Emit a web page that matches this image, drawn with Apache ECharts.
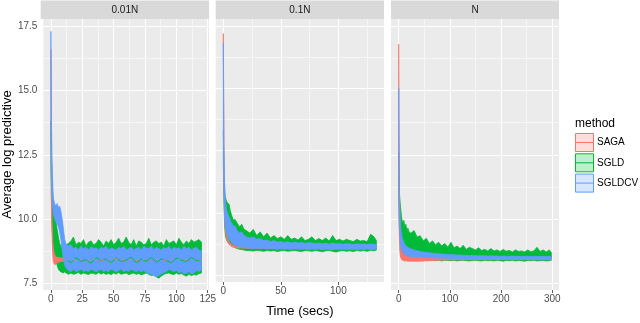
<!DOCTYPE html>
<html>
<head>
<meta charset="utf-8">
<script src="https://cdn.jsdelivr.net/npm/echarts@6/dist/echarts.min.js"></script>
<style>
  html, body { margin: 0; padding: 0; background: #fff; }
  #chart { width: 640px; height: 323px; }
</style>
</head>
<body>
<div id="chart"></div>
<script>
// 面板与方法
const panels = ['0.01N', '0.1N', 'N']
const methods = ['SAGA', 'SGLD', 'SGLDCV']

// 刻度
const yTicks = [7.5, 10, 12.5, 15, 17.5]
const yMinor = [8.75, 11.25, 13.75, 16.25]
const xTicks = [[0, 25, 50, 75, 100, 125], [0, 50, 100], [0, 100, 200, 300]]
const xMinor = [[12.5, 37.5, 62.5, 87.5, 112.5], [25, 75, 125], [50, 150, 250]]

// 0.01N
const p1X = [0, 0.5, 1, 1.5, 2, 3, 4, 5, 6, 7, 8, 9, 10, 11, 12,
  14, 16, 18, 20, 22, 24, 26, 28, 30, 32, 34, 36, 38, 40, 42, 44, 46, 48, 50, 52, 54, 56, 58, 60,
  62, 64, 66, 68, 70, 72, 74, 76, 78, 80, 82, 84, 86, 88, 90, 92, 94, 96, 98, 100, 102, 104, 106,
  108, 110, 112, 114, 116, 118, 120]
const p1SgldHi = [13.8, 12.4, 11.4, 10.8, 10.5, 10.2, 9.9, 9.6, 9.3, 9.05, 8.95, 8.85, 8.9, 8.95, 9.0,
  9.05, 9.15, 9.3, 9.0, 9.1, 9.05, 9.2, 8.95, 9.1, 9.15, 9.0, 9.05, 9.2, 9.1, 8.95, 9.15, 9.05, 9.2,
  9.0, 9.1, 9.25, 9.05, 9.1, 9.3, 9.1, 9.0, 9.2, 8.95, 9.15, 9.1, 9.0, 9.05, 9.25, 9.0, 9.1, 9.15,
  9.05, 9.1, 8.95, 9.2, 9.05, 9.1, 9.15, 9.0, 9.25, 9.1, 9.0, 9.15, 9.05, 9.2, 9.1, 9.15, 9.2, 9.1]
const p1SgldLo = [12.0, 10.4, 9.7, 9.2, 8.9, 8.6, 8.4, 8.2, 8.05, 7.98, 7.95, 7.92, 7.9, 7.95, 7.9,
  7.85, 7.9, 7.85, 7.88, 7.92, 7.85, 7.9, 7.87, 7.84, 7.9, 7.88, 7.85, 7.92, 7.86, 7.9,
  7.85, 7.88, 7.84, 7.9, 7.86, 7.92, 7.85, 7.88, 7.9, 7.84, 7.87, 7.9, 7.85, 7.88, 7.83,
  7.86, 7.9, 7.85, 7.8, 7.82, 7.75, 7.7, 7.78, 7.85, 7.88, 7.9, 7.86, 7.84, 7.9, 7.85,
  7.88, 7.82, 7.78, 7.85, 7.8, 7.84, 7.82, 7.88, 7.9]
const p1CvHi = [17.3, 13.6, 12.1, 11.3, 10.8, 10.6, 10.5, 10.6, 10.45, 10.5, 10.3, 10.0, 9.6, 9.2, 9.05,
  8.95, 9.0, 8.85, 8.9, 8.8, 8.95, 8.85, 8.9, 8.8, 8.92, 8.85, 8.88, 8.8, 8.9, 8.86,
  8.94, 8.8, 8.88, 8.84, 8.8, 8.9, 8.85, 8.94, 8.8, 8.85, 8.9, 8.8, 8.86, 8.9, 8.8,
  8.94, 8.88, 8.84, 8.95, 8.8, 8.9, 8.85, 8.8, 8.9, 8.84, 8.94, 8.8, 8.9, 8.85, 8.88,
  8.8, 8.94, 8.85, 8.9, 8.8, 8.86, 8.9, 8.8, 8.75]
const p1CvLo = [13.0, 11.5, 10.8, 10.4, 10.2, 10.0, 9.9, 9.8, 9.7, 9.5, 9.2, 8.8, 8.45, 8.2, 8.1,
  8.0, 7.95, 8.05, 7.96, 8.0, 8.04, 7.95, 8.0, 7.96, 8.05, 8.0, 7.95, 8.0, 8.04, 7.96,
  8.0, 7.95, 8.05, 8.0, 7.95, 8.0, 8.05, 7.95, 8.0, 7.96, 8.04, 8.0, 7.95, 8.0, 7.94,
  8.0, 7.92, 7.88, 7.84, 7.8, 7.76, 7.8, 7.86, 7.92, 7.95, 8.04, 8.0, 7.95, 8.0, 7.9,
  7.95, 7.86, 7.9, 7.95, 7.86, 7.9, 8.0, 7.96, 8.02]
const p1SagaX = [0, 0.5, 1, 1.5, 2, 3, 4, 5, 6, 8, 10, 15, 20, 30, 40, 50, 60, 70, 80, 90, 100, 110, 120]
const p1SagaHi = [16.6, 11.0, 9.7, 9.1, 8.8, 8.6, 8.55, 8.5, 8.5, 8.48, 8.5, 8.47, 8.5, 8.49, 8.46, 8.5,
  8.48, 8.5, 8.47, 8.5, 8.48, 8.5, 8.49]
const p1SagaLo = [16.0, 10.2, 9.1, 8.6, 8.35, 8.22, 8.25, 8.3, 8.32, 8.35, 8.36, 8.35, 8.37, 8.35, 8.36,
  8.34, 8.36, 8.35, 8.37, 8.35, 8.36, 8.35, 8.36]
// 0.01N 中线 (蓝带内可见的绿/红线)
const p1MidX = [12, 16, 20, 24, 28, 32, 36, 40, 44, 48, 52, 56, 60, 64, 68, 72, 76, 80, 84, 88, 92, 96,
  100, 104, 108, 112, 116, 120]
const p1SgldMid = [8.45, 8.3, 8.5, 8.35, 8.42, 8.28, 8.5, 8.38, 8.45, 8.3, 8.48, 8.35, 8.4, 8.52, 8.3,
  8.44, 8.36, 8.5, 8.32, 8.45, 8.38, 8.3, 8.48, 8.4, 8.35, 8.5, 8.38, 8.42]
const p1SagaMid = [8.42, 8.44, 8.4, 8.43, 8.41, 8.44, 8.42, 8.4, 8.43, 8.42, 8.44, 8.41, 8.42, 8.43, 8.4,
  8.42, 8.44, 8.41, 8.43, 8.42, 8.4, 8.43, 8.42, 8.44, 8.41, 8.42, 8.43, 8.42]

// 0.1N
const p2X = [0, 0.5, 1, 1.5, 2, 3, 4, 5, 6, 7, 8, 9, 10, 12, 14, 16, 18, 20,
  23, 26, 29, 32, 35, 38, 41, 44, 47, 50, 53, 56, 59, 62, 65, 68, 71, 74, 77, 80, 83, 86, 89, 92,
  95, 98, 101, 104, 107, 110, 113, 116, 119, 122, 125, 128, 131, 133]
const p2SgldHi = [13.3, 11.8, 11.0, 10.7, 10.6, 10.45, 10.4, 10.35, 10.1, 9.95, 9.8, 9.7, 9.75, 9.6, 9.45,
  9.55, 9.35, 9.3,
  9.2, 9.35, 9.1, 9.25, 9.05, 9.2, 9.0, 9.1, 8.98, 9.05, 8.95, 9.1, 8.95, 9.0, 8.92, 9.05, 8.9, 8.95,
  9.05, 8.9, 8.98, 8.9, 9.0, 8.88, 9.1, 8.9, 8.95, 8.88, 8.95, 8.9, 8.86, 8.95, 8.88, 8.9, 8.86,
  9.15, 9.05, 8.9]
const p2SgldLo = [12.0, 10.4, 9.6, 9.25, 9.05, 8.9, 8.82, 8.78, 8.75, 8.72, 8.7, 8.66, 8.62, 8.58, 8.55,
  8.54, 8.52, 8.5,
  8.5, 8.48, 8.51, 8.49, 8.47, 8.5, 8.48, 8.5, 8.46, 8.49, 8.5, 8.47, 8.49, 8.5, 8.48, 8.46, 8.5,
  8.49, 8.47, 8.5, 8.48, 8.45, 8.49, 8.5, 8.47, 8.44, 8.48, 8.5, 8.47, 8.49, 8.46, 8.5, 8.48, 8.5,
  8.47, 8.51, 8.49, 8.52]
const p2CvHi = [16.8, 12.6, 11.3, 10.8, 10.4, 10.1, 9.95, 9.85, 9.7, 9.6, 9.55, 9.45, 9.5, 9.3, 9.2,
  9.25, 9.1, 9.05,
  9.0, 9.05, 8.95, 8.98, 8.9, 8.92, 8.86, 8.9, 8.84, 8.86, 8.82, 8.85, 8.8, 8.84, 8.8, 8.82, 8.78,
  8.82, 8.8, 8.78, 8.8, 8.77, 8.8, 8.76, 8.8, 8.77, 8.78, 8.75, 8.78, 8.76, 8.74, 8.77, 8.75, 8.76,
  8.74, 8.77, 8.75, 8.74]
const p2CvLo = [13.5, 11.0, 10.0, 9.6, 9.4, 9.2, 9.05, 8.95, 8.88, 8.82, 8.78, 8.74, 8.72, 8.68, 8.65,
  8.63, 8.62, 8.6,
  8.6, 8.58, 8.6, 8.57, 8.59, 8.56, 8.58, 8.57, 8.55, 8.58, 8.56, 8.57, 8.55, 8.58, 8.56, 8.55, 8.57,
  8.54, 8.56, 8.55, 8.57, 8.54, 8.56, 8.55, 8.53, 8.56, 8.55, 8.57, 8.54, 8.56, 8.55, 8.53, 8.56,
  8.55, 8.57, 8.54, 8.56, 8.55]
const p2SagaX = [0, 0.5, 1, 1.5, 2, 3, 4, 5, 6, 8, 10, 12, 15, 20, 30, 40, 60, 80, 100, 120, 133]
const p2SagaHi = [17.2, 12.0, 10.3, 9.8, 9.5, 9.15, 8.95, 8.85, 8.8, 8.72, 8.69, 8.67, 8.66, 8.65, 8.64,
  8.63, 8.63, 8.62, 8.62, 8.62, 8.62]
const p2SagaLo = [16.5, 11.0, 9.9, 9.45, 9.2, 8.95, 8.82, 8.75, 8.7, 8.64, 8.62, 8.6, 8.6, 8.59, 8.58,
  8.58, 8.57, 8.57, 8.57, 8.57, 8.57]

// N
const p3X = [0, 1, 2, 3, 4, 5, 6, 8, 10, 12, 14, 16, 18, 20,
  24, 30, 36, 42, 48, 54, 60, 66, 72, 78, 84, 90, 96, 102, 108, 114, 120, 126, 132, 138, 144, 150,
  156, 162, 168, 174, 180, 186, 192, 198, 204, 210, 216, 222, 228, 234, 240, 246, 252, 258, 264,
  270, 276, 282, 288, 294, 298]
const p3SgldHi = [12.6, 11.2, 10.8, 10.6, 10.4, 10.2, 10.0, 9.85, 9.95, 9.7, 9.8, 9.55, 9.65, 9.5,
  9.45, 9.55, 9.3, 9.35, 9.15, 9.25, 9.05, 9.15, 9.0, 9.1, 8.95, 9.05, 8.9, 9.1, 8.88, 8.95, 8.85,
  8.98, 8.82, 8.9, 8.85, 8.8, 8.88, 8.78, 8.82, 8.76, 8.85, 8.76, 8.8, 8.74, 8.82, 8.75, 8.78, 8.72,
  8.8, 8.74, 8.76, 8.72, 8.8, 8.73, 8.76, 8.9, 8.74, 8.8, 8.72, 8.8, 8.7]
const p3SgldLo = [11.0, 9.8, 9.3, 9.0, 8.85, 8.75, 8.68, 8.6, 8.55, 8.5, 8.48, 8.45, 8.44, 8.42,
  8.4, 8.42, 8.39, 8.41, 8.38, 8.4, 8.39, 8.41, 8.38, 8.4, 8.37, 8.4, 8.39, 8.38, 8.4, 8.37, 8.39,
  8.4, 8.38, 8.37, 8.39, 8.4, 8.38, 8.37, 8.4, 8.38, 8.39, 8.37, 8.4, 8.38, 8.36, 8.39, 8.38, 8.4,
  8.37, 8.39, 8.38, 8.36, 8.39, 8.38, 8.4, 8.37, 8.38, 8.39, 8.37, 8.38, 8.4]
const p3CvHi = [15.1, 11.6, 10.6, 10.0, 9.7, 9.5, 9.35, 9.2, 9.1, 9.02, 8.97, 8.93, 8.9, 8.87,
  8.84, 8.8, 8.77, 8.74, 8.72, 8.7, 8.69, 8.67, 8.66, 8.65, 8.64, 8.63, 8.62, 8.62, 8.61, 8.6,
  8.6, 8.59, 8.59, 8.58, 8.58, 8.58, 8.57, 8.57, 8.57, 8.56, 8.57, 8.56, 8.56, 8.55, 8.56, 8.55,
  8.55, 8.56, 8.55, 8.55, 8.54, 8.55, 8.55, 8.54, 8.55, 8.54, 8.54, 8.55, 8.54, 8.54, 8.54]
const p3CvLo = [13.5, 10.2, 9.5, 9.15, 8.95, 8.85, 8.78, 8.7, 8.65, 8.62, 8.6, 8.58, 8.56, 8.55,
  8.54, 8.53, 8.52, 8.51, 8.5, 8.5, 8.49, 8.49, 8.48, 8.48, 8.48, 8.47, 8.47, 8.47, 8.46,
  8.46, 8.46, 8.46, 8.45, 8.45, 8.45, 8.45, 8.45, 8.44, 8.44, 8.44, 8.44, 8.44, 8.44, 8.43,
  8.44, 8.43, 8.43, 8.43, 8.43, 8.43, 8.43, 8.42, 8.43, 8.42, 8.43, 8.42, 8.42, 8.42, 8.42,
  8.42, 8.42]
const p3SagaX = [0, 0.5, 1, 2, 3, 4, 5, 6, 8, 10, 12, 15, 20, 25, 30, 40, 50, 60, 70, 80, 100, 150,
  200, 250, 298]
const p3SagaHi = [16.8, 14.0, 12.0, 10.3, 9.6, 9.35, 9.2, 9.05, 8.9, 8.82, 8.76, 8.72, 8.68, 8.65, 8.62,
  8.6, 8.57, 8.55, 8.52, 8.5, 8.48, 8.47, 8.46, 8.46, 8.46]
const p3SagaLo = [14.5, 10.5, 9.4, 8.8, 8.6, 8.5, 8.45, 8.42, 8.39, 8.38, 8.37, 8.37, 8.36, 8.36, 8.36,
  8.36, 8.37, 8.38, 8.39, 8.4, 8.41, 8.42, 8.42, 8.42, 8.42]

// 颜色方案 (ggplot 默认)
const colors = { SAGA: '#F8766D', SGLD: '#00BA38', SGLDCV: '#619CFF' }
const fills = { SAGA: 'rgba(248,118,109,0.25)', SGLD: 'rgba(0,186,56,0.25)', SGLDCV: 'rgba(97,156,255,0.25)' }

// 面板布局
const gridTop = 19
const gridHeight = 271
const gridLefts = [40.7, 215.7, 391]
const gridWidths = [168.3, 168.3, 168]
const xRanges = [[-6, 126], [-6.65, 139.65], [-15, 313]]
const yRange = [7.24, 17.78]

// 每个面板绘制顺序: SGLD, SAGA, SGLDCV
const bands = [
  [
    { m: 'SGLD', x: p1X, lo: p1SgldLo, hi: p1SgldHi },
    { m: 'SAGA', x: p1SagaX, lo: p1SagaLo, hi: p1SagaHi },
    { m: 'SGLDCV', x: p1X, lo: p1CvLo, hi: p1CvHi }
  ],
  [
    { m: 'SGLD', x: p2X, lo: p2SgldLo, hi: p2SgldHi },
    { m: 'SAGA', x: p2SagaX, lo: p2SagaLo, hi: p2SagaHi },
    { m: 'SGLDCV', x: p2X, lo: p2CvLo, hi: p2CvHi }
  ],
  [
    { m: 'SGLD', x: p3X, lo: p3SgldLo, hi: p3SgldHi },
    { m: 'SAGA', x: p3SagaX, lo: p3SagaLo, hi: p3SagaHi },
    { m: 'SGLDCV', x: p3X, lo: p3CvLo, hi: p3CvHi }
  ]
]

const font = 'Liberation Sans'

// 带状区域: 整条带画成一个多边形
const bandRenderer = (color) => (params, api) => {
  if (params.dataIndex !== 0) return null
  const n = params.dataInsideLength
  const lo = []
  const hi = []
  for (let k = 0; k < n; k++) {
    lo.push(api.coord([api.value(0, k), api.value(1, k)]))
    hi.push(api.coord([api.value(0, k), api.value(2, k)]))
  }
  const poly = lo.concat(hi.slice().reverse())
  return {
    type: 'polygon',
    shape: { points: poly },
    style: { fill: color, stroke: color, lineWidth: 0.8 }
  }
}

const grids = []
const xAxes = []
const yAxes = []
const series = []
const graphics = []

panels.forEach((p, i) => {
  grids.push({
    left: gridLefts[i], top: gridTop, width: gridWidths[i], height: gridHeight,
    show: true, backgroundColor: '#EBEBEB', borderWidth: 0
  })
  xAxes.push({
    type: 'value', gridIndex: i, min: xRanges[i][0], max: xRanges[i][1],
    splitLine: { show: false },
    axisLine: { show: false },
    axisTick: { show: true, length: 3, customValues: xTicks[i], lineStyle: { color: '#333', width: 0.8 } },
    axisLabel: { customValues: xTicks[i], color: '#4D4D4D', fontSize: 10, fontFamily: font, margin: 4 },
    name: i === 1 ? 'Time (secs)' : '',
    nameLocation: 'middle',
    nameGap: 23,
    nameTextStyle: { color: '#000', fontSize: 13, fontFamily: font }
  })
  yAxes.push({
    type: 'value', gridIndex: i, min: yRange[0], max: yRange[1],
    splitLine: { show: false },
    axisLine: { show: false },
    axisTick: { show: i === 0, length: 3, customValues: yTicks, lineStyle: { color: '#333', width: 0.8 } },
    axisLabel: {
      show: i === 0, customValues: yTicks, color: '#4D4D4D', fontSize: 10, fontFamily: font, margin: 6,
      formatter: (v) => v.toFixed(1)
    },
    name: i === 0 ? 'Average log predictive' : '',
    nameLocation: 'middle',
    nameGap: 26,
    nameTextStyle: { color: '#000', fontSize: 13, fontFamily: font }
  })

  // 网格线 (放在数据下面)
  const lines = []
  yTicks.forEach(v => lines.push({ yAxis: v, lineStyle: { color: '#fff', width: 1.1, type: 'solid' } }))
  yMinor.forEach(v => lines.push({ yAxis: v, lineStyle: { color: '#fff', width: 0.55, type: 'solid' } }))
  xTicks[i].forEach(v => lines.push({ xAxis: v, lineStyle: { color: '#fff', width: 1.1, type: 'solid' } }))
  xMinor[i].forEach(v => lines.push({ xAxis: v, lineStyle: { color: '#fff', width: 0.55, type: 'solid' } }))
  series.push({
    type: 'line', xAxisIndex: i, yAxisIndex: i, z: 1, silent: true,
    data: [], symbol: 'none',
    markLine: { z: 1, silent: true, symbol: ['none', 'none'], label: { show: false }, animation: false, data: lines }
  })

  // 区间带
  bands[i].forEach(b => {
    series.push({
      name: b.m, type: 'custom', xAxisIndex: i, yAxisIndex: i, z: 3, silent: true,
      renderItem: bandRenderer(colors[b.m]),
      encode: { x: 0, y: [1, 2] },
      data: b.x.map((x, k) => [x, b.lo[k], b.hi[k]])
    })
  })

  // 分面标题
  graphics.push({
    type: 'rect', silent: true,
    shape: { x: gridLefts[i], y: 0.5, width: gridWidths[i], height: 18.5 },
    style: { fill: '#D9D9D9' }
  })
  graphics.push({
    type: 'text', silent: true,
    x: gridLefts[i] + gridWidths[i] / 2, y: 10,
    style: { text: p, fill: '#1A1A1A', fontSize: 10, fontFamily: font, align: 'center', verticalAlign: 'middle' }
  })
})

// 0.01N 面板的中线
series.push({
  name: 'SGLD', type: 'line', xAxisIndex: 0, yAxisIndex: 0, z: 4, silent: true, symbol: 'none',
  lineStyle: { color: colors.SGLD, width: 1 },
  data: p1MidX.map((x, k) => [x, p1SgldMid[k]])
})
series.push({
  name: 'SAGA', type: 'line', xAxisIndex: 0, yAxisIndex: 0, z: 4, silent: true, symbol: 'none',
  lineStyle: { color: colors.SAGA, width: 1.2, type: [3, 4] },
  data: p1MidX.map((x, k) => [x, p1SagaMid[k]])
})

// 图例
graphics.push({
  type: 'text', silent: true, x: 575, y: 124,
  style: { text: 'method', fill: '#000', fontSize: 12, fontFamily: font, verticalAlign: 'middle' }
})
methods.forEach((m, k) => {
  const top = 133.5 + k * 20.3
  graphics.push({
    type: 'rect', silent: true,
    shape: { x: 575.5, y: top, width: 18, height: 18 },
    style: { fill: fills[m], stroke: colors[m], lineWidth: 1 }
  })
  graphics.push({
    type: 'line', silent: true,
    shape: { x1: 575.5, y1: top + 9, x2: 593.5, y2: top + 9 },
    style: { stroke: colors[m], lineWidth: 1 }
  })
  graphics.push({
    type: 'text', silent: true, x: 597, y: top + 9,
    style: { text: m, fill: '#000', fontSize: 10, fontFamily: font, verticalAlign: 'middle' }
  })
})

const chart = echarts.init(document.getElementById('chart'))
chart.setOption({
  animation: false,
  grid: grids,
  xAxis: xAxes,
  yAxis: yAxes,
  series,
  graphic: graphics
})
</script>
</body>
</html>
